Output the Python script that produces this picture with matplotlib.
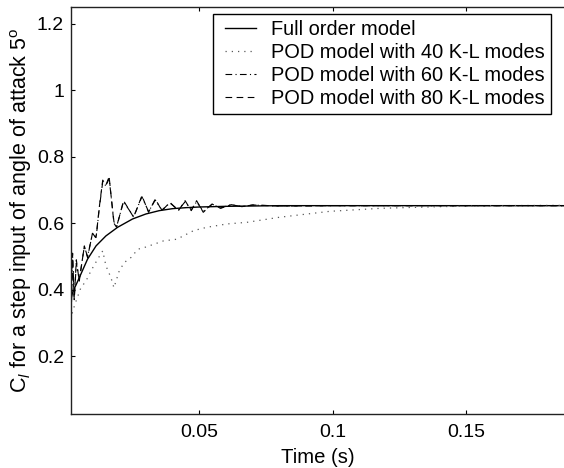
import matplotlib
matplotlib.use("Agg")
import matplotlib.pyplot as plt
from matplotlib.lines import Line2D
from matplotlib.legend_handler import HandlerLine2D

plt.rcParams['font.family'] = ['Liberation Sans', 'DejaVu Sans']
plt.rcParams['mathtext.fontset'] = 'custom'
plt.rcParams['mathtext.rm'] = 'Liberation Sans'
plt.rcParams['mathtext.it'] = 'Liberation Sans:italic'

# Full order model
t_full = [0.002, 0.0025, 0.005, 0.0081, 0.0113, 0.015, 0.0194, 0.025, 0.030, 0.035,
          0.040, 0.045, 0.050, 0.060, 0.070, 0.080, 0.100, 0.130, 0.160, 0.187]
v_full = [0.375, 0.392, 0.436, 0.492, 0.532, 0.562, 0.588, 0.613, 0.628, 0.638,
          0.644, 0.647, 0.649, 0.651, 0.652, 0.653, 0.653, 0.653, 0.653, 0.653]

# POD 40 modes
t_40 = [0.002, 0.0025, 0.0038, 0.0056, 0.0075, 0.0094, 0.0119, 0.0138, 0.015, 0.0169,
        0.018, 0.020, 0.0219, 0.0244, 0.027, 0.0294, 0.0366, 0.0416, 0.0479, 0.0529,
        0.0604, 0.068, 0.080, 0.099, 0.118, 0.140, 0.160, 0.187]
v_40 = [0.31, 0.335, 0.366, 0.406, 0.426, 0.457, 0.492, 0.517, 0.472, 0.436,
        0.406, 0.457, 0.482, 0.497, 0.522, 0.527, 0.547, 0.552, 0.578, 0.588,
        0.598, 0.603, 0.618, 0.636, 0.645, 0.650, 0.653, 0.654]

# POD 60 modes
t_60 = [0.002, 0.0025, 0.0031, 0.0039, 0.005, 0.0069, 0.0081, 0.010, 0.0113, 0.0125,
        0.0138, 0.015, 0.0162, 0.018, 0.019, 0.0216, 0.0254, 0.0285, 0.031, 0.0335,
        0.036, 0.039, 0.0422, 0.0447, 0.047, 0.049, 0.0515, 0.0548, 0.058, 0.062,
        0.066, 0.070, 0.080, 0.100, 0.187]
v_60 = [0.34, 0.50, 0.37, 0.48, 0.43, 0.53, 0.50, 0.57, 0.555, 0.645,
        0.725, 0.712, 0.735, 0.605, 0.59, 0.665, 0.62, 0.68, 0.635, 0.67,
        0.64, 0.661, 0.64, 0.665, 0.64, 0.665, 0.636, 0.657, 0.646, 0.656,
        0.650, 0.655, 0.652, 0.653, 0.653]

# POD 80 modes
t_80 = [0.002, 0.0025, 0.0031, 0.0039, 0.005, 0.0069, 0.0081, 0.010, 0.0113, 0.0125,
        0.0138, 0.015, 0.0162, 0.018, 0.019, 0.0216, 0.0254, 0.0285, 0.031, 0.0335,
        0.036, 0.039, 0.0422, 0.0447, 0.047, 0.049, 0.0515, 0.0548, 0.058, 0.062,
        0.066, 0.070, 0.080, 0.100, 0.187]
v_80 = [0.33, 0.51, 0.37, 0.49, 0.426, 0.532, 0.497, 0.572, 0.557, 0.648,
        0.73, 0.715, 0.74, 0.60, 0.588, 0.668, 0.618, 0.683, 0.633, 0.673,
        0.638, 0.663, 0.638, 0.668, 0.638, 0.668, 0.633, 0.658, 0.645, 0.656,
        0.650, 0.655, 0.652, 0.653, 0.653]

labels = ['Full order model', 'POD model with 40 K-L modes',
          'POD model with 60 K-L modes', 'POD model with 80 K-L modes']
x_ticks = [0.05, 0.1, 0.15]
x_ticklabels = ['0.05', '0.1', '0.15']
y_ticks = [0.2, 0.4, 0.6, 0.8, 1.0, 1.2]
y_ticklabels = ['0.2', '0.4', '0.6', '0.8', '1', '1.2']

fig = plt.figure(figsize=(5.64, 4.68), dpi=100)
ax_l, ax_b, ax_t = 71, 414, 7.3
ax = fig.add_axes([ax_l/564, (468 - ax_b)/468, 1 - ax_l/564, (ax_b - ax_t)/468])

ax.plot(t_full, v_full, color='black', lw=1.0, label=labels[0])
ax.plot(t_40, v_40, color='0.35', lw=0.9, linestyle=(0, (1, 4)), label=labels[1])
ax.plot(t_60, v_60, color='black', lw=0.8, linestyle=(0, (6, 3, 1, 3)), label=labels[2])
ax.plot(t_80, v_80, color='black', lw=0.8, linestyle=(0, (6, 4)), label=labels[3])

ax.set_xlim(0.0019, 0.1868)
ax.set_ylim(0.026, 1.25)
ax.set_xticks(x_ticks)
ax.set_xticklabels(x_ticklabels)
ax.set_yticks(y_ticks)
ax.set_yticklabels(y_ticklabels)
ax.tick_params(axis='both', direction='in', length=3, width=0.8, labelsize=14, top=True,
               right=False, colors='black')
ax.tick_params(axis='x', pad=7)
ax.tick_params(axis='y', pad=5)
ax.spines['right'].set_visible(False)
for s in ['left', 'bottom', 'top']:
    ax.spines[s].set_linewidth(1.0)
    ax.spines[s].set_color('#222222')

ax.set_xlabel('Time (s)', fontsize=14.6, labelpad=5)
ax.set_ylabel(r'$\mathrm{C}_{l}$ for a step input of angle of attack 5$^{\mathrm{o}}$',
              fontsize=15.5, labelpad=2)

anchor_x = (551 - ax_l) / (564 - ax_l)
anchor_y = 1 - (14 - ax_t) / (ax_b - ax_t)
leg = ax.legend(loc='upper right', bbox_to_anchor=(anchor_x, anchor_y),
                fontsize=14.4, frameon=True, fancybox=False, edgecolor='black', framealpha=1,
                handlelength=1.86, handletextpad=0.75, labelspacing=0.2, borderpad=0.3,
                borderaxespad=0.0, handler_map={Line2D: HandlerLine2D(xpad=0.31)})
leg.get_frame().set_linewidth(1.0)

fig.savefig('out.png', dpi=100)
